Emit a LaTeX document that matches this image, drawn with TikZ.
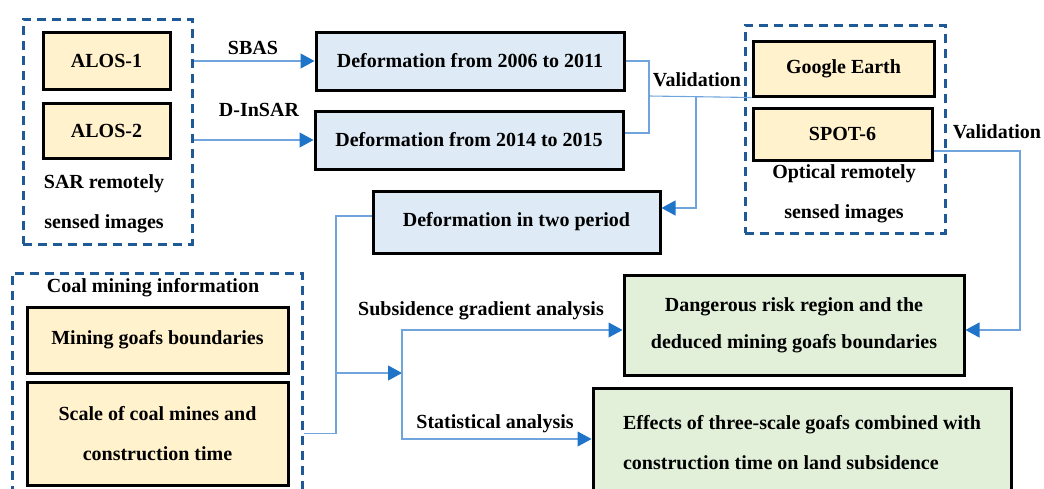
\documentclass[tikz,border=0pt]{standalone}
\usepackage{fontspec}
\setmainfont{Liberation Serif}
\usetikzlibrary{arrows.meta}

\definecolor{sarfill}{HTML}{FFF2CC}
\definecolor{deffill}{HTML}{DEEBF7}
\definecolor{resfill}{HTML}{E2F0D9}
\definecolor{grpblue}{HTML}{1F5A96}
\definecolor{lineblue}{HTML}{6FA5DC}
\definecolor{tipblue}{HTML}{1E74C8}

\tikzset{
    every node/.style={font=\bfseries\fontsize{20}{24}\selectfont},
    databox/.style={draw=black, line width=3pt, fill=sarfill, inner sep=0pt},
    defbox/.style={databox, fill=deffill},
    resbox/.style={databox, fill=resfill},
    group/.style={draw=grpblue, line width=3pt, dash pattern=on 9pt off 6pt, inner sep=0pt},
    link/.style={draw=lineblue, line width=1.1pt},
    flow/.style={link, -{Triangle[length=14pt, width=15pt, color=tipblue]}},
    twolines/.style={align=center, font=\bfseries\fontsize{20}{40}\selectfont}
}

\begin{document}
\begin{tikzpicture}[x=1pt, y=-1pt]
        \useasboundingbox (0, 0) rectangle (1044, 488);
        \clip (0, 0) rectangle (1044, 488);

        % SAR images
        \node[group, minimum width=169, minimum height=225] (sar) at (107.5, 131.5) {};
        \node[databox, minimum width=127, minimum height=57] (alos1) at (106.5, 60.5) {ALOS-1};
        \node[databox, minimum width=127, minimum height=55] (alos2) at (106.5, 130.5) {ALOS-2};
        \node[twolines] (sarlbl) at (104, 204) {SAR remotely\\sensed images};

        % Deformation results
        \node[defbox, minimum width=308, minimum height=58] (def1) at (470, 61) {Deformation from 2006 to 2011};
        \node[defbox, minimum width=308, minimum height=58] (def2) at (469, 140) {Deformation from 2014 to 2015};
        \node[defbox, minimum width=287, minimum height=62] (defboth) at (516.5, 222) {Deformation in two period};

        % Optical images
        \node[group, minimum width=200, minimum height=208] (opt) at (845, 129) {};
        \node[databox, minimum width=181, minimum height=55] (ge) at (843.5, 68.5) {Google Earth};
        \node[databox, minimum width=179, minimum height=52] (spot) at (842.5, 134) {SPOT-6};
        \node[twolines] (optlbl) at (844, 193.5) {Optical remotely\\sensed images};

        % Coal mining information
        \node[group, minimum width=290, minimum height=227] (coal) at (157, 386.5) {};
        \node (coallbl) at (153, 288) {Coal mining information};
        \node[databox, minimum width=261, minimum height=66] (goaf) at (157.5, 340) {Mining goafs boundaries};
        \node[databox, minimum width=261, minimum height=103, twolines] (scale) at (157.5, 433.5) {Scale of coal mines and\\construction time};

        % Results
        \node[resbox, minimum width=340, minimum height=100, twolines, font=\bfseries\fontsize{20}{37}\selectfont] (danger) at (794, 325) {Dangerous risk region and the\\deduced mining goafs boundaries};
        \node[resbox, minimum width=418, minimum height=110, twolines, align=left] (effect) at (802, 443) {Effects of three-scale goafs combined with\\construction time on land subsidence};

        % Junction points
        \coordinate (vj) at (649, 96);
        \coordinate (vk) at (696, 96);
        \coordinate (mx) at (336, 373);
        \coordinate (sp) at (402, 373);
        \coordinate (vr) at (1020, 151);

        % SAR processing
        \draw[flow] (sar.east |- def1.west) -- (def1.west);
        \draw[flow] (sar.east |- def2.west) -- (def2.west);
        \node (sbas) at (253, 48) {SBAS};
        \node (dinsar) at (259, 110) {D-InSAR};

        % Validation with optical images
        \draw[link] (def1.east) -| (vj);
        \draw[link] ([yshift=7pt]def2.east) -| (vj);
        \draw[link] (vj) -- (ge.south west);
        \draw[flow] (vk) |- ([yshift=14pt]defboth.east);
        \node (val1) at (697, 80) {Validation};

        \draw[flow] (spot.east |- vr) -- (vr) |- ([yshift=-5pt]danger.east);
        \node (val2) at (997, 132) {Validation};

        % Analysis
        \draw[link] ([yshift=6pt]defboth.west) -| (mx) |- (coal.east |- scale.east);
        \draw[flow] (mx) -- (sp);
        \draw[flow] (sp) |- ([yshift=-5pt]danger.west);
        \draw[flow] (sp) |- ([yshift=4pt]effect.west);
        \node (grad) at (481, 311) {Subsidence gradient analysis};
        \node (stat) at (495, 424) {Statistical analysis};

    \end{tikzpicture}
\end{document}
